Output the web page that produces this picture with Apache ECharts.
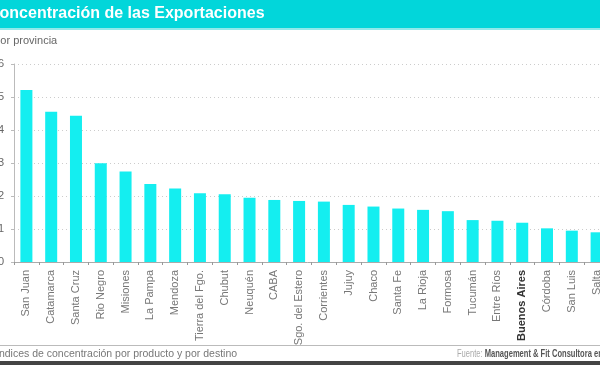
<!DOCTYPE html>
<html><head><meta charset="utf-8">
<script src="https://cdn.jsdelivr.net/npm/echarts@6/dist/echarts.min.js"></script>
<style>html,body{margin:0;padding:0;background:#fff}#c{width:600px;height:365px}</style>
</head><body><div id="c"></div>
<script>
const provinces = ["San Juan","Catamarca","Santa Cruz","Rio Negro","Misiones","La Pampa","Mendoza","Tierra del Fgo.","Chubut","Neuquén","CABA","Sgo. del Estero","Corrientes","Jujuy","Chaco","Santa Fe","La Rioja","Formosa","Tucumán","Entre Ríos","Buenos Aires","Córdoba","San Luis","Salta"];
const concentration = [5.21,4.55,4.43,2.99,2.74,2.36,2.23,2.08,2.05,1.95,1.88,1.85,1.83,1.73,1.68,1.62,1.58,1.54,1.27,1.25,1.19,1.02,0.95,0.90];
const yTicks = [0,1,2,3,4,5,6];
const highlighted = "Buenos Aires";

const chart = echarts.init(document.getElementById('c'), null, {renderer:'canvas'});
chart.setOption({
  animation:false,
  backgroundColor:'#fff',
  graphic:[
    {type:'rect', shape:{x:0,y:0,width:600,height:28}, style:{fill:'#02D6DA'}},
    {type:'rect', shape:{x:0,y:28,width:600,height:2}, style:{fill:'#8FEAEA'}},
    {type:'text', x:-12, y:6, style:{text:'Concentración de las Exportaciones', fill:'#fff', font:'bold 16px "Liberation Sans", Arial, sans-serif'}},
    {type:'text', x:-7, y:35, style:{text:'Por provincia', fill:'#666', font:'11px "Liberation Sans", Arial, sans-serif'}},
    {type:'rect', shape:{x:0,y:345,width:600,height:1}, style:{fill:'#bbb'}},
    {type:'text', x:-4, y:349, style:{text:'Índices de concentración por producto y por destino', fill:'#777', font:'10.5px "Liberation Sans", Arial, sans-serif'}},
    {type:'text', x:457, y:349, scaleX:0.72, style:{
      text:'{a|Fuente: }{b|Management & Fit Consultora en base a INDEC}',
      rich:{a:{fill:'#aaa', font:'10.5px "Liberation Sans", sans-serif'},
            b:{fill:'#555', font:'bold 10.5px "Liberation Sans", sans-serif'}}}},
    {type:'rect', shape:{x:0,y:361,width:600,height:4}, style:{fill:'#444'}}
  ],
  grid:{left:14, width:595, top:64, height:198, containLabel:false, outerBoundsMode:'none'},
  xAxis:{
    type:'category', data:provinces,
    axisLine:{lineStyle:{color:'#aaa'}},
    axisTick:{show:true, length:3, lineStyle:{color:'#999'}},
    axisLabel:{rotate:90, interval:0, margin:8, color:'#777', fontSize:11, fontFamily:'"Liberation Sans", Arial, sans-serif',
      formatter:v => v===highlighted ? '{h|'+v+'}' : v,
      rich:{h:{fontWeight:'bold', color:'#333', fontSize:11, fontFamily:'"Liberation Sans", Arial, sans-serif'}}}
  },
  yAxis:{
    type:'value', min:yTicks[0], max:yTicks[yTicks.length-1], interval:1,
    axisLine:{show:true, lineStyle:{color:'#bbb'}},
    axisTick:{show:true, length:3, lineStyle:{color:'#bbb'}},
    axisLabel:{margin:10, color:'#666', fontSize:11, fontFamily:'"Liberation Sans", Arial, sans-serif'},
    splitLine:{show:true, lineStyle:{color:'#ccc', type:[1,3], width:1}}
  },
  series:[{type:'bar', data:concentration, barWidth:12, itemStyle:{color:'#14EEF0'}}]
});
</script></body></html>
